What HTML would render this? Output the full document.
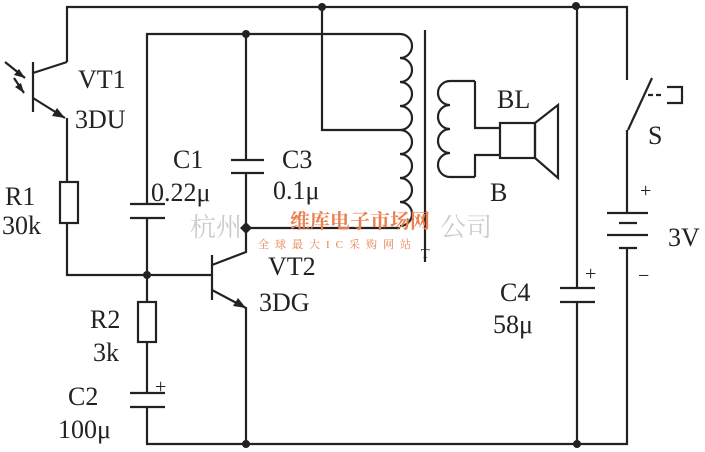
<!DOCTYPE html>
<html><head><meta charset="utf-8"><style>
html,body{margin:0;padding:0;background:#fff;}
svg{display:block;}
text{font-family:"Liberation Serif","Noto Serif CJK SC",serif;fill:#222;}
</style></head><body>
<svg width="705" height="452" viewBox="0 0 705 452" xmlns="http://www.w3.org/2000/svg">
<g stroke="#222" stroke-width="2.2" fill="none">
<polyline points="67,62 67,7 627,7 627,80"/>
<polyline points="147,204 147,34 400,34"/>
<path d="M400,34 a6,6 0 0 1 0,24 a6,6 0 0 1 0,24 a6,6 0 0 1 0,24 a6,6 0 0 1 0,24 a6,6 0 0 1 0,24 a6,6 0 0 1 0,24 a6,6 0 0 1 0,24 a6,6 0 0 1 0,24"/>
<polyline points="322,7 322,130 400,130"/>
<polyline points="400,228 246,228"/>
<line x1="425" y1="30" x2="425" y2="262"/>
<path d="M475,81 L450,81 a6,6 0 0 0 0,24 a6,6 0 0 0 0,24 a6,6 0 0 0 0,24 a6,6 0 0 0 0,24 L475,177"/>
<polyline points="475,81 475,128 500,128"/>
<polyline points="475,177 475,155 500,155"/>
<rect x="500" y="123" width="35" height="35"/>
<polygon points="535,123 558,105 558,178 535,158"/>
<line x1="33" y1="62" x2="33" y2="112"/>
<line x1="33" y1="73" x2="67" y2="62"/>
<line x1="33" y1="98" x2="65" y2="118"/>
<polyline points="67,118 67,182"/>
<rect x="60" y="182" width="18" height="41"/>
<polyline points="67,223 67,275 212,275"/>
<line x1="5" y1="62" x2="25" y2="78"/>
<line x1="14" y1="78" x2="24" y2="93"/>
<line x1="130" y1="204" x2="165" y2="204"/>
<line x1="130" y1="218" x2="165" y2="218"/>
<polyline points="147,218 147,302"/>
<rect x="138" y="302" width="18" height="40"/>
<polyline points="147,342 147,393"/>
<line x1="130" y1="393" x2="165" y2="393"/>
<line x1="130" y1="407" x2="165" y2="407"/>
<polyline points="147,407 147,444 627,444 627,248"/>
<line x1="246" y1="34" x2="246" y2="160"/>
<line x1="231" y1="160" x2="264" y2="160"/>
<line x1="231" y1="173" x2="264" y2="173"/>
<polyline points="246,173 246,252 212,265"/>
<line x1="212" y1="255" x2="212" y2="300"/>
<polyline points="212,290 246,308 246,444"/>
<line x1="577" y1="7" x2="577" y2="288"/>
<line x1="560" y1="288" x2="595" y2="288"/>
<line x1="560" y1="302" x2="595" y2="302"/>
<line x1="577" y1="302" x2="577" y2="444"/>
<line x1="628" y1="130" x2="652" y2="78"/>
<line x1="648" y1="95" x2="664" y2="95" stroke-dasharray="5,3"/>
<polyline points="667,87 682,87 682,103 667,103"/>
<line x1="627" y1="130" x2="627" y2="213"/>
<line x1="607" y1="213" x2="648" y2="213"/>
<line x1="619" y1="223" x2="637" y2="223"/>
<line x1="607" y1="235" x2="648" y2="235"/>
<line x1="619" y1="248" x2="637" y2="248"/>
</g>
<g fill="#222">
<polygon points="65,118 52,116 57,108"/>
<polygon points="246,308 233,306 238,298"/>
<polygon points="25,78 14,75 19,69"/>
<polygon points="24,93 15,87 21,83"/>
<circle cx="322" cy="7" r="4"/><circle cx="246" cy="34" r="4"/><circle cx="576" cy="6" r="4"/>
<circle cx="147" cy="275" r="4"/><polygon points="246,222 252,228 246,234 240,228"/>
<circle cx="246" cy="444" r="4"/><circle cx="577" cy="444" r="4"/>
</g>
<text x="190" y="236" font-size="26" style="fill:#ccc">杭州</text>
<text x="440" y="236" font-size="26" style="fill:#ccc">公司</text>
<text x="290" y="228" font-size="20" style="fill:#e98050" font-weight="bold">维库电子市场网</text>
<text x="258" y="248" font-size="11" style="fill:#e98050" letter-spacing="6">全球最大IC采购网站</text>
<g font-size="26">
<text x="78" y="88">VT1</text>
<text x="75" y="128">3DU</text>
<text x="5" y="205">R1</text>
<text x="2" y="234">30k</text>
<text x="173" y="168">C1</text>
<text x="151" y="201">0.22μ</text>
<text x="282" y="168">C3</text>
<text x="273" y="199">0.1μ</text>
<text x="268" y="275">VT2</text>
<text x="259" y="311">3DG</text>
<text x="90" y="328">R2</text>
<text x="93" y="361">3k</text>
<text x="68" y="405">C2</text>
<text x="58" y="438">100μ</text>
<text x="497" y="108">BL</text>
<text x="490" y="201">B</text>
<text x="648" y="144">S</text>
<text x="668" y="246">3V</text>
<text x="500" y="301">C4</text>
<text x="493" y="333">58μ</text>
</g>
<g font-size="20">
<text x="640" y="197">+</text>
<text x="638" y="282">−</text>
<text x="155" y="393">+</text>
<text x="585" y="280">+</text>
<text x="421" y="258" font-size="14">T</text>
</g>
</svg>
</body></html>
